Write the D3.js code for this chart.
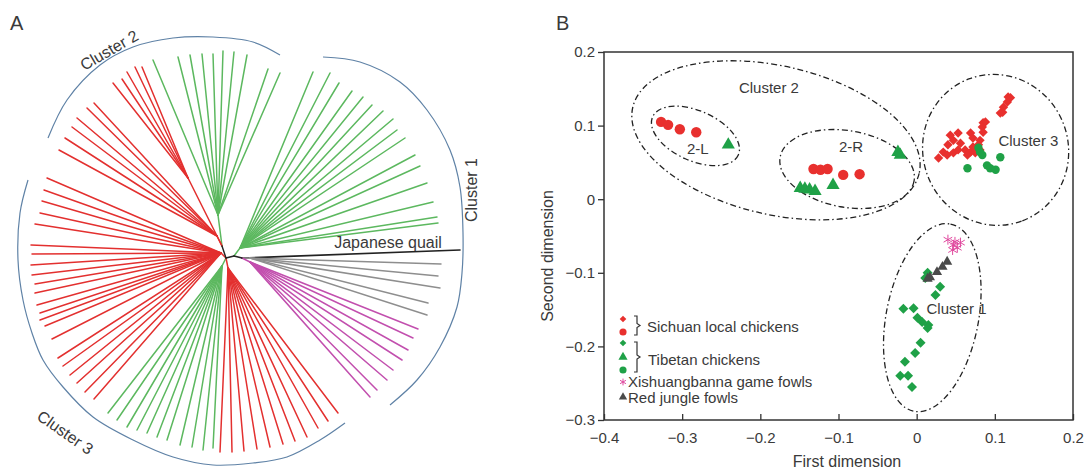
<!DOCTYPE html>
<html>
<head>
<meta charset="utf-8">
<script src="https://cdn.jsdelivr.net/npm/d3@7"></script>
<style>
  body { margin: 0; background: #fff; }
  text { font-family: "Liberation Sans", Arial, sans-serif; fill: #3a3a3a; }
</style>
</head>
<body>
<svg id="chart" width="1086" height="470"></svg>
<script>
// ---------- panel A: tree, coords in tree space (root at 0,0) ----------
var innerNodes = { root: [0, 0], up: [-4, -12], right: [8, -2], rightB: [16, 0] };

var quailLeaf = [[234, -8]];
var grayLeaves = [[215, 6], [212, 18], [214, 30], [202, 45], [201, 57]];
var magentaLeaves = [[192, 71], [187, 80], [182, 92], [176, 102], [167, 112], [161, 122], [151, 132], [144, 139]];
var greenC1Leaves = [[87, -186], [104, -185], [113, -175], [126, -167], [137, -161], [146, -153], [157, -147],
  [167, -139], [171, -128], [179, -120], [189, -103], [194, -92], [201, -75], [207, -56], [211, -41], [212, -35]];
var greenC2Leaves = [[-73, -198], [-48, -201], [-36, -203], [-24, -204], [-13, -204], [-3, -207], [8, -206],
  [21, -203], [42, -189], [54, -185]];
var redC2TopLeaves = [[-113, -175], [-104, -179], [-99, -186], [-91, -191], [-84, -191]];
var redC2LowLeaves = [[-132, -155], [-139, -150], [-149, -140], [-154, -131], [-161, -120], [-167, -108]];
var redC3LeftLeaves = [[-179, -80], [-182, -68], [-184, -57], [-186, -45], [-191, -34], [-195, -13], [-194, -4],
  [-195, 7], [-194, 17], [-191, 26], [-191, 35], [-189, 47], [-186, 55], [-186, 62], [-181, 68], [-174, 81],
  [-168, 100], [-163, 108], [-156, 117], [-149, 125], [-141, 134], [-132, 141]];
var greenC3Leaves = [[-118, 155], [-109, 162], [-99, 169], [-89, 172], [-79, 175], [-69, 179], [-59, 182],
  [-46, 187], [-34, 189], [-23, 192], [-13, 190]];
var redC3BottomLeaves = [[-6, 194], [6, 194], [18, 193], [31, 191], [44, 189], [57, 186], [69, 183], [81, 179],
  [92, 170], [102, 163], [112, 155]];

var clades = [
  { kind: 'quail', parent: 'rightB', hub: [16, 0], leaves: quailLeaf },
  { kind: 'jungle', parent: 'rightB', hub: [24, 0], leaves: grayLeaves },
  { kind: 'game', parent: 'rightB', hub: [24, 4], leaves: magentaLeaves },
  { kind: 'tibet', parent: 'right', hub: [14, -10], leaves: greenC1Leaves },
  { kind: 'tibet', parent: 'up', hub: [-8, -43], leaves: greenC2Leaves },
  { kind: 'sichuan', parent: 'up', hub: [-38, -80], leaves: redC2TopLeaves },
  { kind: 'sichuan', parent: 'up', hub: [-9, -22], leaves: redC2LowLeaves },
  { kind: 'sichuan', parent: 'root', hub: [-5, -5], leaves: redC3LeftLeaves },
  { kind: 'tibet', parent: 'root', hub: [-4, 8], leaves: greenC3Leaves },
  { kind: 'sichuan', parent: 'root', hub: [2, 10], leaves: redC3BottomLeaves }
];

var clusterArc2 = [[-178, -120], [-159, -158], [-126, -193], [-93, -211], [-53, -220], [-13, -221], [27, -216], [54, -203]];
var clusterArc1 = [[97, -201], [134, -196], [174, -176], [201, -148], [224, -108], [234, -71], [237, -25], [236, 15],
  [231, 49], [214, 89], [191, 122], [164, 147]];
var clusterArc3 = [[-198, -78], [-206, -45], [-208, 2], [-203, 42], [-194, 75], [-183, 102], [-163, 129], [-133, 159],
  [-93, 182], [-53, 199], [-13, 207], [27, 205], [61, 199], [94, 182], [119, 165]];

// ---------- panel B: MDS scatter ----------
var sichuanDiamonds = [[0.117, 0.139], [0.120, 0.138], [0.116, 0.132], [0.111, 0.125], [0.110, 0.118], [0.107, 0.117],
  [0.088, 0.105], [0.085, 0.104], [0.084, 0.098], [0.085, 0.091], [0.069, 0.090], [0.072, 0.083], [0.081, 0.080],
  [0.053, 0.090], [0.043, 0.087], [0.047, 0.080], [0.040, 0.074], [0.034, 0.064], [0.028, 0.056], [0.039, 0.060],
  [0.047, 0.063], [0.053, 0.067], [0.062, 0.067], [0.069, 0.064], [0.065, 0.060], [0.075, 0.063], [0.072, 0.071],
  [0.081, 0.067], [0.079, 0.074], [0.056, 0.076]];
var sichuanCircles = [[-0.327, 0.105], [-0.318, 0.101], [-0.303, 0.095], [-0.282, 0.091],
  [-0.132, 0.041], [-0.123, 0.040], [-0.114, 0.041], [-0.094, 0.033], [-0.073, 0.034]];
var tibetDiamonds = [[0.014, -0.100], [0.011, -0.107], [0.030, -0.119], [0.024, -0.130], [-0.017, -0.149],
  [-0.004, -0.148], [0.001, -0.161], [0.007, -0.167], [0.015, -0.171], [0.014, -0.175], [0.005, -0.195],
  [-0.002, -0.209], [-0.015, -0.221], [-0.021, -0.240], [-0.011, -0.240], [-0.006, -0.255]];
var tibetTriangles = [[-0.241, 0.074], [-0.149, 0.015], [-0.143, 0.014], [-0.137, 0.013], [-0.130, 0.011],
  [-0.107, 0.019], [-0.024, 0.064], [-0.021, 0.060]];
var tibetCircles = [[0.079, 0.070], [0.081, 0.064], [0.084, 0.060], [0.107, 0.057], [0.065, 0.042],
  [0.090, 0.046], [0.094, 0.042], [0.101, 0.040]];
var gameFowls = [[0.040, -0.055], [0.047, -0.062], [0.052, -0.066], [0.046, -0.069], [0.056, -0.059], [0.049, -0.058]];
var jungleFowls = [[0.039, -0.085], [0.033, -0.092], [0.026, -0.099], [0.017, -0.106], [0.014, -0.108]];

var xTicks = [-0.4, -0.3, -0.2, -0.1, 0, 0.1, 0.2];
var yTicks = [-0.3, -0.2, -0.1, 0, 0.1, 0.2];

// ellipses: center, semi-axes (x data units), rotation
var ellipses = [
  { c: [-0.180, 0.080], a: 0.188, b: 0.095, rot: 13 },
  { c: [-0.283, 0.086], a: 0.060, b: 0.032, rot: 24 },
  { c: [-0.089, 0.041], a: 0.087, b: 0.049, rot: 10 },
  { c: [0.101, 0.067], a: 0.097, b: 0.093, rot: 70 },
  { c: [0.020, -0.161], a: 0.122, b: 0.059, rot: -79 }
];
var clusterLabels = [
  { t: 'Cluster 2', p: [-0.189, 0.144] }, { t: '2-L', p: [-0.280, 0.061] }, { t: '2-R', p: [-0.084, 0.064] },
  { t: 'Cluster 3', p: [0.143, 0.072] }, { t: 'Cluster 1', p: [0.051, -0.156] }
];

var treeColor = { sichuan: '#e3302f', tibet: '#5cb85f', game: '#c24fae', jungle: '#8e8e8e', quail: '#222' };
var RED = '#e8302e', GREEN = '#1fa147', PINK = '#e0489e', DARK = '#4a4a4a';

var svg = d3.select('#chart');

// ---------- draw panel A ----------
var tx = d3.scaleLinear().domain([-200, 240]).range([26, 466]);
var ty = d3.scaleLinear().domain([-220, 210]).range([38, 468]);

var gA = svg.append('g');

function seg(p, q, color, w) {
  gA.append('line')
    .attr('x1', tx(p[0])).attr('y1', ty(p[1]))
    .attr('x2', tx(q[0])).attr('y2', ty(q[1]))
    .attr('stroke', color).attr('stroke-width', w || 1.5)
    .attr('stroke-linecap', 'round');
}

clades.forEach(function (c) {
  var col = treeColor[c.kind];
  c.leaves.forEach(function (l) { seg(c.hub, l, col, c.kind === 'quail' ? 1.7 : 1.5); });
  seg(innerNodes[c.parent], c.hub, c.kind === 'quail' ? '#222' : col);
});
// black joints in the middle
seg(innerNodes.root, innerNodes.up, '#222', 1.4);
seg(innerNodes.root, innerNodes.right, '#222', 1.4);
seg(innerNodes.right, innerNodes.rightB, '#222', 1.4);

var arcLine = d3.line().x(function (d) { return tx(d[0]); }).y(function (d) { return ty(d[1]); })
  .curve(d3.curveCatmullRom);
[clusterArc1, clusterArc2, clusterArc3].forEach(function (a) {
  gA.append('path').attr('d', arcLine(a)).attr('fill', 'none')
    .attr('stroke', '#5f82a6').attr('stroke-width', 1.2);
});

function treeLabel(t, p, rot) {
  gA.append('text').attr('text-anchor', 'middle').attr('font-size', 16)
    .attr('transform', 'translate(' + tx(p[0]) + ',' + ty(p[1]) + ') rotate(' + rot + ')')
    .text(t);
}
treeLabel('Cluster 2', [-114, -203], -30);
treeLabel('Cluster 1', [251, -68], -90);
treeLabel('Cluster  3', [-164, 179], 35);
treeLabel('Japanese quail', [162, -10], 0);

svg.append('text').attr('x', 10).attr('y', 30).attr('font-size', 20).text('A');
svg.append('text').attr('x', 556).attr('y', 30).attr('font-size', 20).text('B');

// ---------- draw panel B ----------
var x = d3.scaleLinear().domain([-0.4, 0.2]).range([604, 1073]);
var y = d3.scaleLinear().domain([-0.3, 0.2]).range([420, 52]);
var kx = x(1) - x(0);

var gB = svg.append('g');

gB.append('rect').attr('x', x(-0.4)).attr('y', y(0.2))
  .attr('width', x(0.2) - x(-0.4)).attr('height', y(-0.3) - y(0.2))
  .attr('fill', 'none').attr('stroke', '#333').attr('stroke-width', 1.5);

var xAxis = gB.append('g').attr('transform', 'translate(0,' + y(-0.3) + ')')
  .call(d3.axisBottom(x).tickValues(xTicks).tickSize(-6).tickPadding(12)
    .tickFormat(function (d) { return d === 0 ? '0' : d3.format('.1f')(d); }));
var yAxis = gB.append('g').attr('transform', 'translate(' + x(-0.4) + ',0)')
  .call(d3.axisLeft(y).tickValues(yTicks).tickSize(6).tickPadding(3)
    .tickFormat(function (d) { return d === 0 ? '0' : d3.format('.1f')(d); }));
[xAxis, yAxis].forEach(function (ax) {
  ax.select('.domain').remove();
  ax.selectAll('line').attr('stroke', '#333').attr('stroke-width', 1.3);
  ax.selectAll('text').attr('font-size', 15).attr('fill', '#3a3a3a')
    .attr('font-family', '"Liberation Sans", Arial, sans-serif');
});

gB.append('text').attr('x', 847).attr('y', 467).attr('text-anchor', 'middle').attr('font-size', 16)
  .text('First dimension');
gB.append('text').attr('transform', 'translate(553,256) rotate(-90)').attr('text-anchor', 'middle')
  .attr('font-size', 16).text('Second dimension');

ellipses.forEach(function (e) {
  gB.append('ellipse')
    .attr('transform', 'translate(' + x(e.c[0]) + ',' + y(e.c[1]) + ') rotate(' + e.rot + ')')
    .attr('rx', e.a * kx).attr('ry', e.b * kx)
    .attr('fill', 'none').attr('stroke', '#222').attr('stroke-width', 1.3)
    .attr('stroke-dasharray', '6,3,1.5,3');
});

clusterLabels.forEach(function (l) {
  gB.append('text').attr('x', x(l.p[0])).attr('y', y(l.p[1])).attr('text-anchor', 'middle')
    .attr('font-size', 15).text(l.t);
});

function points(data, type, size, color, rot, stroke) {
  var sym = d3.symbol().type(type).size(size);
  gB.selectAll(null).data(data).enter().append('path')
    .attr('d', sym)
    .attr('transform', function (d) {
      return 'translate(' + x(d[0]) + ',' + y(d[1]) + ')' + (rot ? ' rotate(' + rot + ')' : '');
    })
    .attr('fill', stroke ? 'none' : color)
    .attr('stroke', stroke ? color : 'none')
    .attr('stroke-width', stroke ? 1 : 0);
}
points(tibetDiamonds, d3.symbolSquare, 50, GREEN, 45);
points(sichuanCircles, d3.symbolCircle, 85, RED);
points(tibetTriangles, d3.symbolTriangle, 75, GREEN);
points(sichuanDiamonds, d3.symbolSquare, 44, RED, 45);
points(tibetCircles, d3.symbolCircle, 55, GREEN);
points(gameFowls, d3.symbolAsterisk, 70, PINK, 0, true);
points(jungleFowls, d3.symbolTriangle, 45, DARK);

// legend
var legend = gB.append('g').attr('transform', 'translate(623,319)');
var legendRows = [
  { type: d3.symbolSquare, size: 22, color: RED, rot: 45 },
  { type: d3.symbolCircle, size: 40, color: RED },
  { type: d3.symbolSquare, size: 22, color: GREEN, rot: 45 },
  { type: d3.symbolTriangle, size: 36, color: GREEN },
  { type: d3.symbolCircle, size: 40, color: GREEN },
  { type: d3.symbolAsterisk, size: 32, color: PINK, stroke: true },
  { type: d3.symbolTriangle, size: 30, color: DARK }
];
var rowY = [0, 13, 24, 38, 51, 63, 78];
legendRows.forEach(function (r, i) {
  legend.append('path').attr('d', d3.symbol().type(r.type).size(r.size))
    .attr('transform', 'translate(0,' + rowY[i] + ')' + (r.rot ? ' rotate(' + r.rot + ')' : ''))
    .attr('fill', r.stroke ? 'none' : r.color)
    .attr('stroke', r.stroke ? r.color : 'none').attr('stroke-width', 1);
});
function brace(y0, y1) {
  var m = (y0 + y1) / 2;
  legend.append('path')
    .attr('d', 'M11,' + y0 + 'h3V' + (m - 2) + 'l3,2l-3,2V' + y1 + 'h-3')
    .attr('fill', 'none').attr('stroke', '#333').attr('stroke-width', 1.2);
}
brace(-3, 16);
brace(23, 53);
var legendText = [
  { t: 'Sichuan local chickens', x: 24, y: 13 },
  { t: 'Tibetan chickens', x: 25, y: 46 },
  { t: 'Xishuangbanna game fowls', x: 5, y: 68 },
  { t: 'Red jungle fowls', x: 5, y: 84 }
];
legendText.forEach(function (l) {
  legend.append('text').attr('x', l.x).attr('y', l.y).attr('font-size', 15).text(l.t);
});
</script>
</body>
</html>
